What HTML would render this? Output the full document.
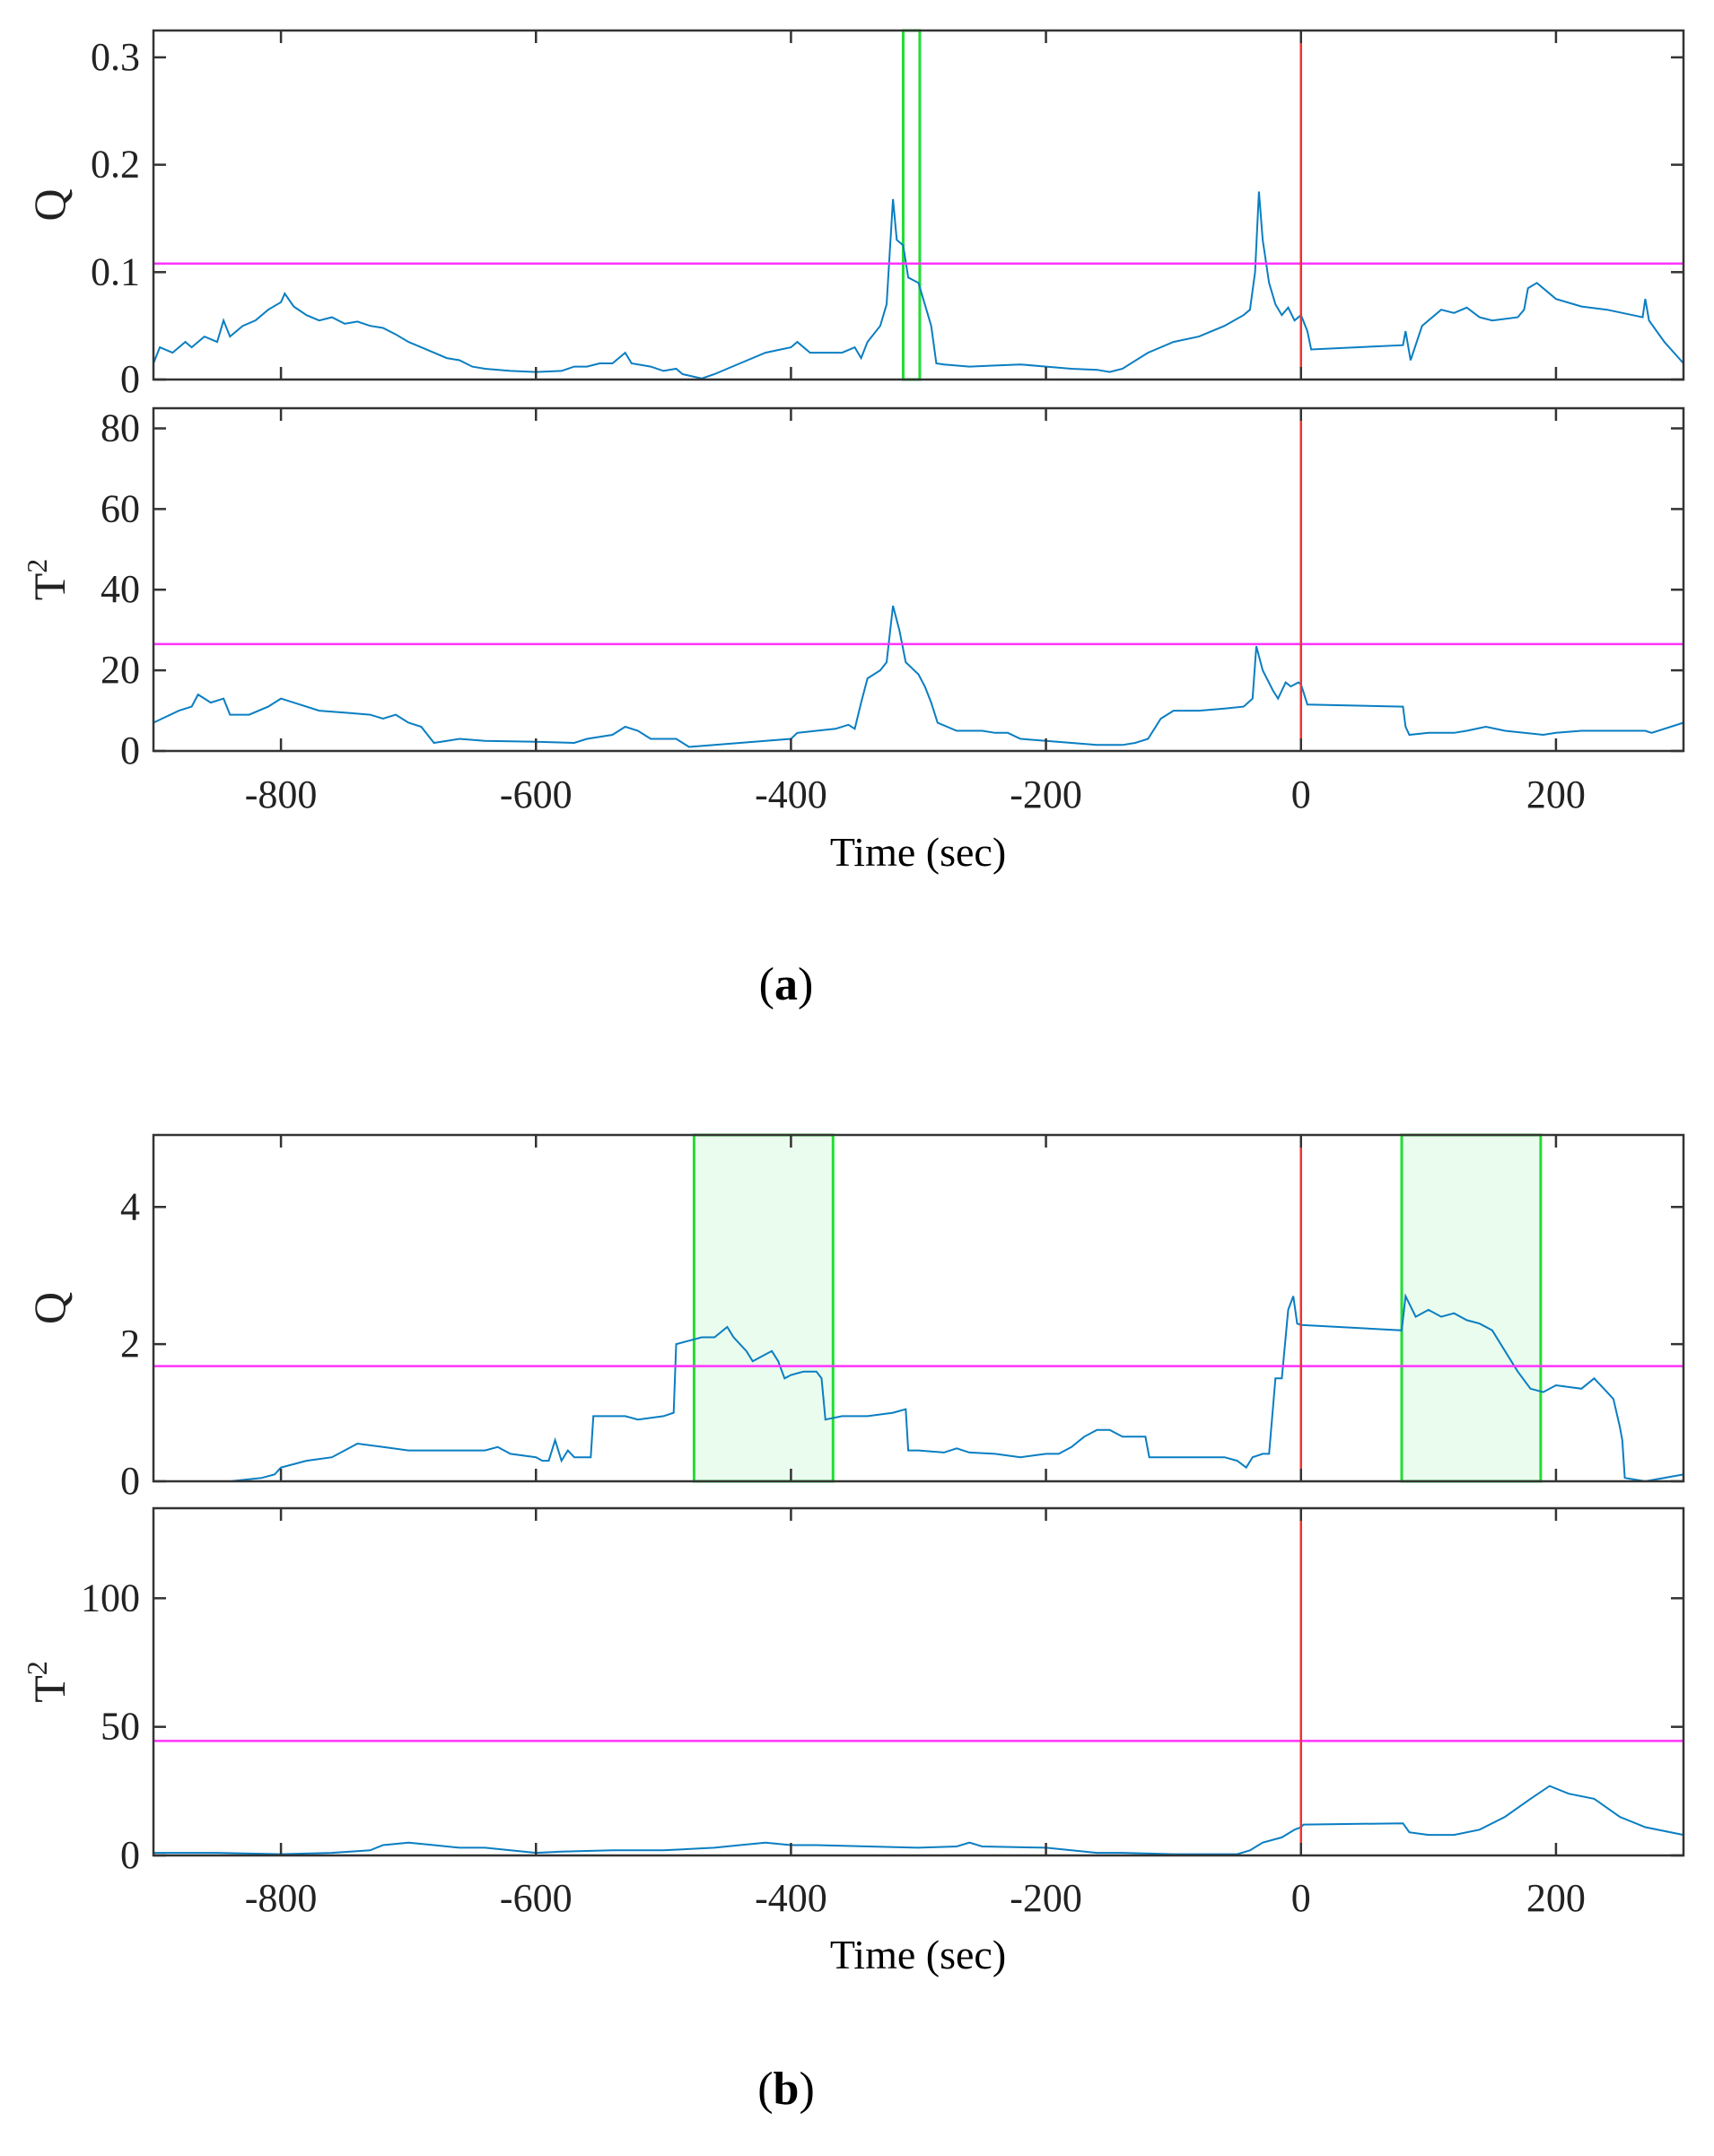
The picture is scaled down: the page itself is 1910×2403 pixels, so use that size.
<!DOCTYPE html>
<html><head><meta charset="utf-8"><style>
html,body{margin:0;padding:0;background:#fff;}
svg{display:block;font-family:"Liberation Serif",serif;}
</style></head><body>
<svg id="fig" width="1910" height="2403" viewBox="0 0 1910 2403" xmlns="http://www.w3.org/2000/svg">
<text x="876" y="1114" font-size="52" text-anchor="middle">(<tspan font-weight="bold">a</tspan>)</text>
<text x="876" y="2345" font-size="52" text-anchor="middle">(<tspan font-weight="bold">b</tspan>)</text>
<text x="1023" y="965" font-size="46" text-anchor="middle">Time (sec)</text>
<text x="1023" y="2194" font-size="46" text-anchor="middle">Time (sec)</text>
</svg>
<script>
const xTicks=[-800,-600,-400,-200,0,200];
const aQt=[-900,-895,-885,-875,-870,-860,-850,-845,-840,-830,-820,-810,-800,-797,-790,-780,-770,-760,-750,-740,-730,-720,-710,-700,-690,-680,-670,-660,-650,-640,-620,-600,-580,-570,-560,-550,-540,-530,-525,-510,-500,-490,-485,-470,-460,-440,-420,-400,-395,-385,-360,-350,-345,-340,-330,-325,-320,-317,-312,-308,-300,-295,-290,-286,-280,-260,-240,-220,-200,-180,-160,-150,-140,-120,-100,-80,-60,-45,-40,-36,-33,-30,-25,-20,-15,-10,-5,0,5,8,80,82,86,95,110,120,130,140,150,170,175,178,185,200,220,240,260,268,270,273,285,300];
const aQv=[0.015,0.03,0.025,0.035,0.03,0.04,0.035,0.055,0.04,0.05,0.055,0.065,0.072,0.08,0.068,0.06,0.055,0.058,0.052,0.054,0.05,0.048,0.042,0.035,0.03,0.025,0.02,0.018,0.012,0.01,0.008,0.007,0.008,0.012,0.012,0.015,0.015,0.025,0.015,0.012,0.008,0.01,0.005,0.001,0.005,0.015,0.025,0.03,0.035,0.025,0.025,0.03,0.02,0.035,0.05,0.07,0.168,0.13,0.125,0.095,0.09,0.07,0.05,0.015,0.014,0.012,0.013,0.014,0.012,0.01,0.009,0.007,0.01,0.025,0.035,0.04,0.05,0.06,0.065,0.1,0.175,0.13,0.09,0.07,0.06,0.067,0.055,0.06,0.045,0.028,0.032,0.045,0.018,0.05,0.065,0.062,0.067,0.058,0.055,0.058,0.065,0.085,0.09,0.075,0.068,0.065,0.06,0.058,0.075,0.055,0.035,0.015];
const aTt=[-900,-880,-870,-865,-855,-845,-840,-825,-810,-800,-790,-770,-750,-730,-720,-710,-700,-690,-680,-660,-640,-600,-570,-560,-540,-530,-520,-510,-490,-480,-460,-420,-400,-395,-380,-365,-355,-350,-345,-340,-330,-325,-320,-315,-310,-300,-295,-290,-285,-270,-250,-240,-230,-220,-200,-180,-160,-140,-130,-120,-110,-100,-80,-60,-45,-38,-35,-30,-22,-18,-12,-8,-2,0,5,80,82,85,100,120,130,145,160,190,200,220,250,270,275,300];
const aTv=[7,10,11,14,12,13,9,9,11,13,12,10,9.5,9,8,9,7,6,2,3,2.5,2.3,2,3,4,6,5,3,3,1,1.5,2.5,3,4.5,5,5.5,6.5,5.5,12,18,20,22,36,30,22,19,16,12,7,5,5,4.5,4.5,3,2.5,2,1.5,1.5,2,3,8,10,10,10.5,11,13,26,20,15,13,17,16,17,16.5,11.5,11,6,4,4.5,4.5,5,6,5,4,4.5,5,5,5,4.5,7];
const bQt=[-900,-840,-815,-805,-800,-790,-780,-760,-750,-740,-720,-700,-660,-640,-630,-620,-600,-595,-590,-585,-580,-575,-570,-557,-555,-530,-520,-500,-492,-490,-480,-470,-460,-450,-445,-435,-430,-425,-415,-410,-405,-400,-390,-380,-376,-373,-360,-340,-320,-310,-308,-300,-280,-270,-260,-240,-220,-200,-190,-180,-170,-160,-150,-140,-122,-119,-100,-80,-60,-50,-43,-38,-30,-25,-20,-15,-10,-6,-3,0,79,82,90,100,110,120,130,140,150,160,170,180,190,200,220,230,240,245,250,252,254,270,300];
const bQv=[0,0,0.05,0.1,0.2,0.25,0.3,0.35,0.45,0.55,0.5,0.45,0.45,0.45,0.5,0.4,0.35,0.3,0.3,0.6,0.3,0.45,0.35,0.35,0.95,0.95,0.9,0.95,1.0,2.0,2.05,2.1,2.1,2.25,2.1,1.9,1.75,1.8,1.9,1.75,1.5,1.55,1.6,1.6,1.5,0.9,0.95,0.95,1.0,1.05,0.45,0.45,0.42,0.48,0.42,0.4,0.35,0.4,0.4,0.5,0.65,0.75,0.75,0.65,0.65,0.35,0.35,0.35,0.35,0.3,0.2,0.35,0.4,0.4,1.5,1.5,2.5,2.7,2.3,2.28,2.2,2.7,2.4,2.5,2.4,2.45,2.35,2.3,2.2,1.9,1.6,1.35,1.3,1.4,1.35,1.5,1.3,1.2,0.8,0.6,0.05,0,0.1];
const bTt=[-900,-850,-800,-760,-730,-720,-700,-680,-660,-640,-620,-600,-580,-540,-500,-460,-440,-420,-400,-380,-300,-270,-260,-250,-200,-180,-160,-140,-100,-50,-40,-30,-15,-5,0,2,80,85,100,120,140,160,180,195,210,230,250,270,300];
const bTv=[1,1,0.5,1,2,4,5,4,3,3,2,1,1.5,2,2,3,4,5,4,4,3,3.5,5,3.5,3,2,1,1,0.5,0.5,2,5,7,10,11,12,12.5,9,8,8,10,15,22,27,24,22,15,11,8];
const aQyTicks=[0,0.1,0.2,0.3], aQyLabels=["0","0.1","0.2","0.3"];
const aTyTicks=[0,20,40,60,80], bQyTicks=[0,2,4], bTyTicks=[0,50,100];
const thrA=[0.108,26.5], thrB=[1.68,44.5];
const boxA=[[-312,-299]], boxB=[[-476,-367],[79,188]];

const NS="http://www.w3.org/2000/svg", svg=document.getElementById('fig');
const L=171,R=1876;
function X(t){return L+(t+900)/1200*(R-L);}
function mk(tag,attrs,parent){const e=document.createElementNS(NS,tag);for(const k in attrs)e.setAttribute(k,attrs[k]);(parent||svg).appendChild(e);return e;}
function panel(name,top,bot,ymax,yt,yl,ts,vs,thr,boxes,ylabel,sup,showX,xlabY){
  const Y=v=>bot-v/ymax*(bot-top);
  const g=mk('g',{});
  
  
  for(const b of boxes){
    const r=mk('rect',{x:X(b[0]),y:top,width:X(b[1])-X(b[0]),height:bot-top,fill:b[1]-b[0]>50?'#eafcee':'none',stroke:'#22dd33','stroke-width':3},g);
    
    
  }
  let d='';ts.forEach((t,i)=>{d+=(i?'L':'M')+X(t).toFixed(1)+' '+Y(vs[i]).toFixed(1);});
  const p=mk('path',{d:d,fill:'none',stroke:'#0a7ec2','stroke-width':2},g);
  
  
  const th=mk('line',{x1:L,x2:R,y1:Y(thr),y2:Y(thr),stroke:'#ff33ff','stroke-width':2.5},g);
  
  
  const rl=mk('line',{x1:X(0),x2:X(0),y1:top,y2:bot,stroke:'#ee3333','stroke-width':2.5},g);
  
  
  const fr=mk('rect',{x:L,y:top,width:R-L,height:bot-top,fill:'none',stroke:'#333','stroke-width':2.5},g);
  
  
  for(const t of xTicks){
    mk('line',{x1:X(t),x2:X(t),y1:top,y2:top+14,stroke:'#333','stroke-width':2.5},g);
    mk('line',{x1:X(t),x2:X(t),y1:bot,y2:bot-14,stroke:'#333','stroke-width':2.5},g);
    if(showX){const tx=mk('text',{x:X(t),y:xlabY,'font-size':44,'text-anchor':'middle',fill:'#222'},g);tx.textContent=t;
      
      }
  }
  yt.forEach((v,i)=>{
    mk('line',{x1:L,x2:L+14,y1:Y(v),y2:Y(v),stroke:'#333','stroke-width':2.5},g);
    mk('line',{x1:R,x2:R-14,y1:Y(v),y2:Y(v),stroke:'#333','stroke-width':2.5},g);
    const tx=mk('text',{x:156,y:Y(v)+14,'font-size':44,'text-anchor':'end',fill:'#222'},g);tx.textContent=yl?yl[i]:v;
    
    
  });
  const cy=(top+bot)/2;
  const yt2=mk('text',{x:0,y:0,'font-size':50,'text-anchor':'middle',fill:'#222',transform:`translate(72,${cy}) rotate(-90)`},g);
  yt2.textContent=ylabel;
  if(sup){const s=mk('tspan',{'font-size':32,dy:-20},yt2);s.textContent='2';}
  
  
}
panel('panel-a-q',34,423,0.325,aQyTicks,aQyLabels,aQt,aQv,thrA[0],boxA,'Q',false,false,0);
panel('panel-a-t2',455,837,85,aTyTicks,null,aTt,aTv,thrA[1],[],'T',true,true,900);
panel('panel-b-q',1265,1651,5.05,bQyTicks,null,bQt,bQv,thrB[0],boxB,'Q',false,false,0);
panel('panel-b-t2',1681,2068,135,bTyTicks,null,bTt,bTv,thrB[1],[],'T',true,true,2130);
</script>
</body></html>
